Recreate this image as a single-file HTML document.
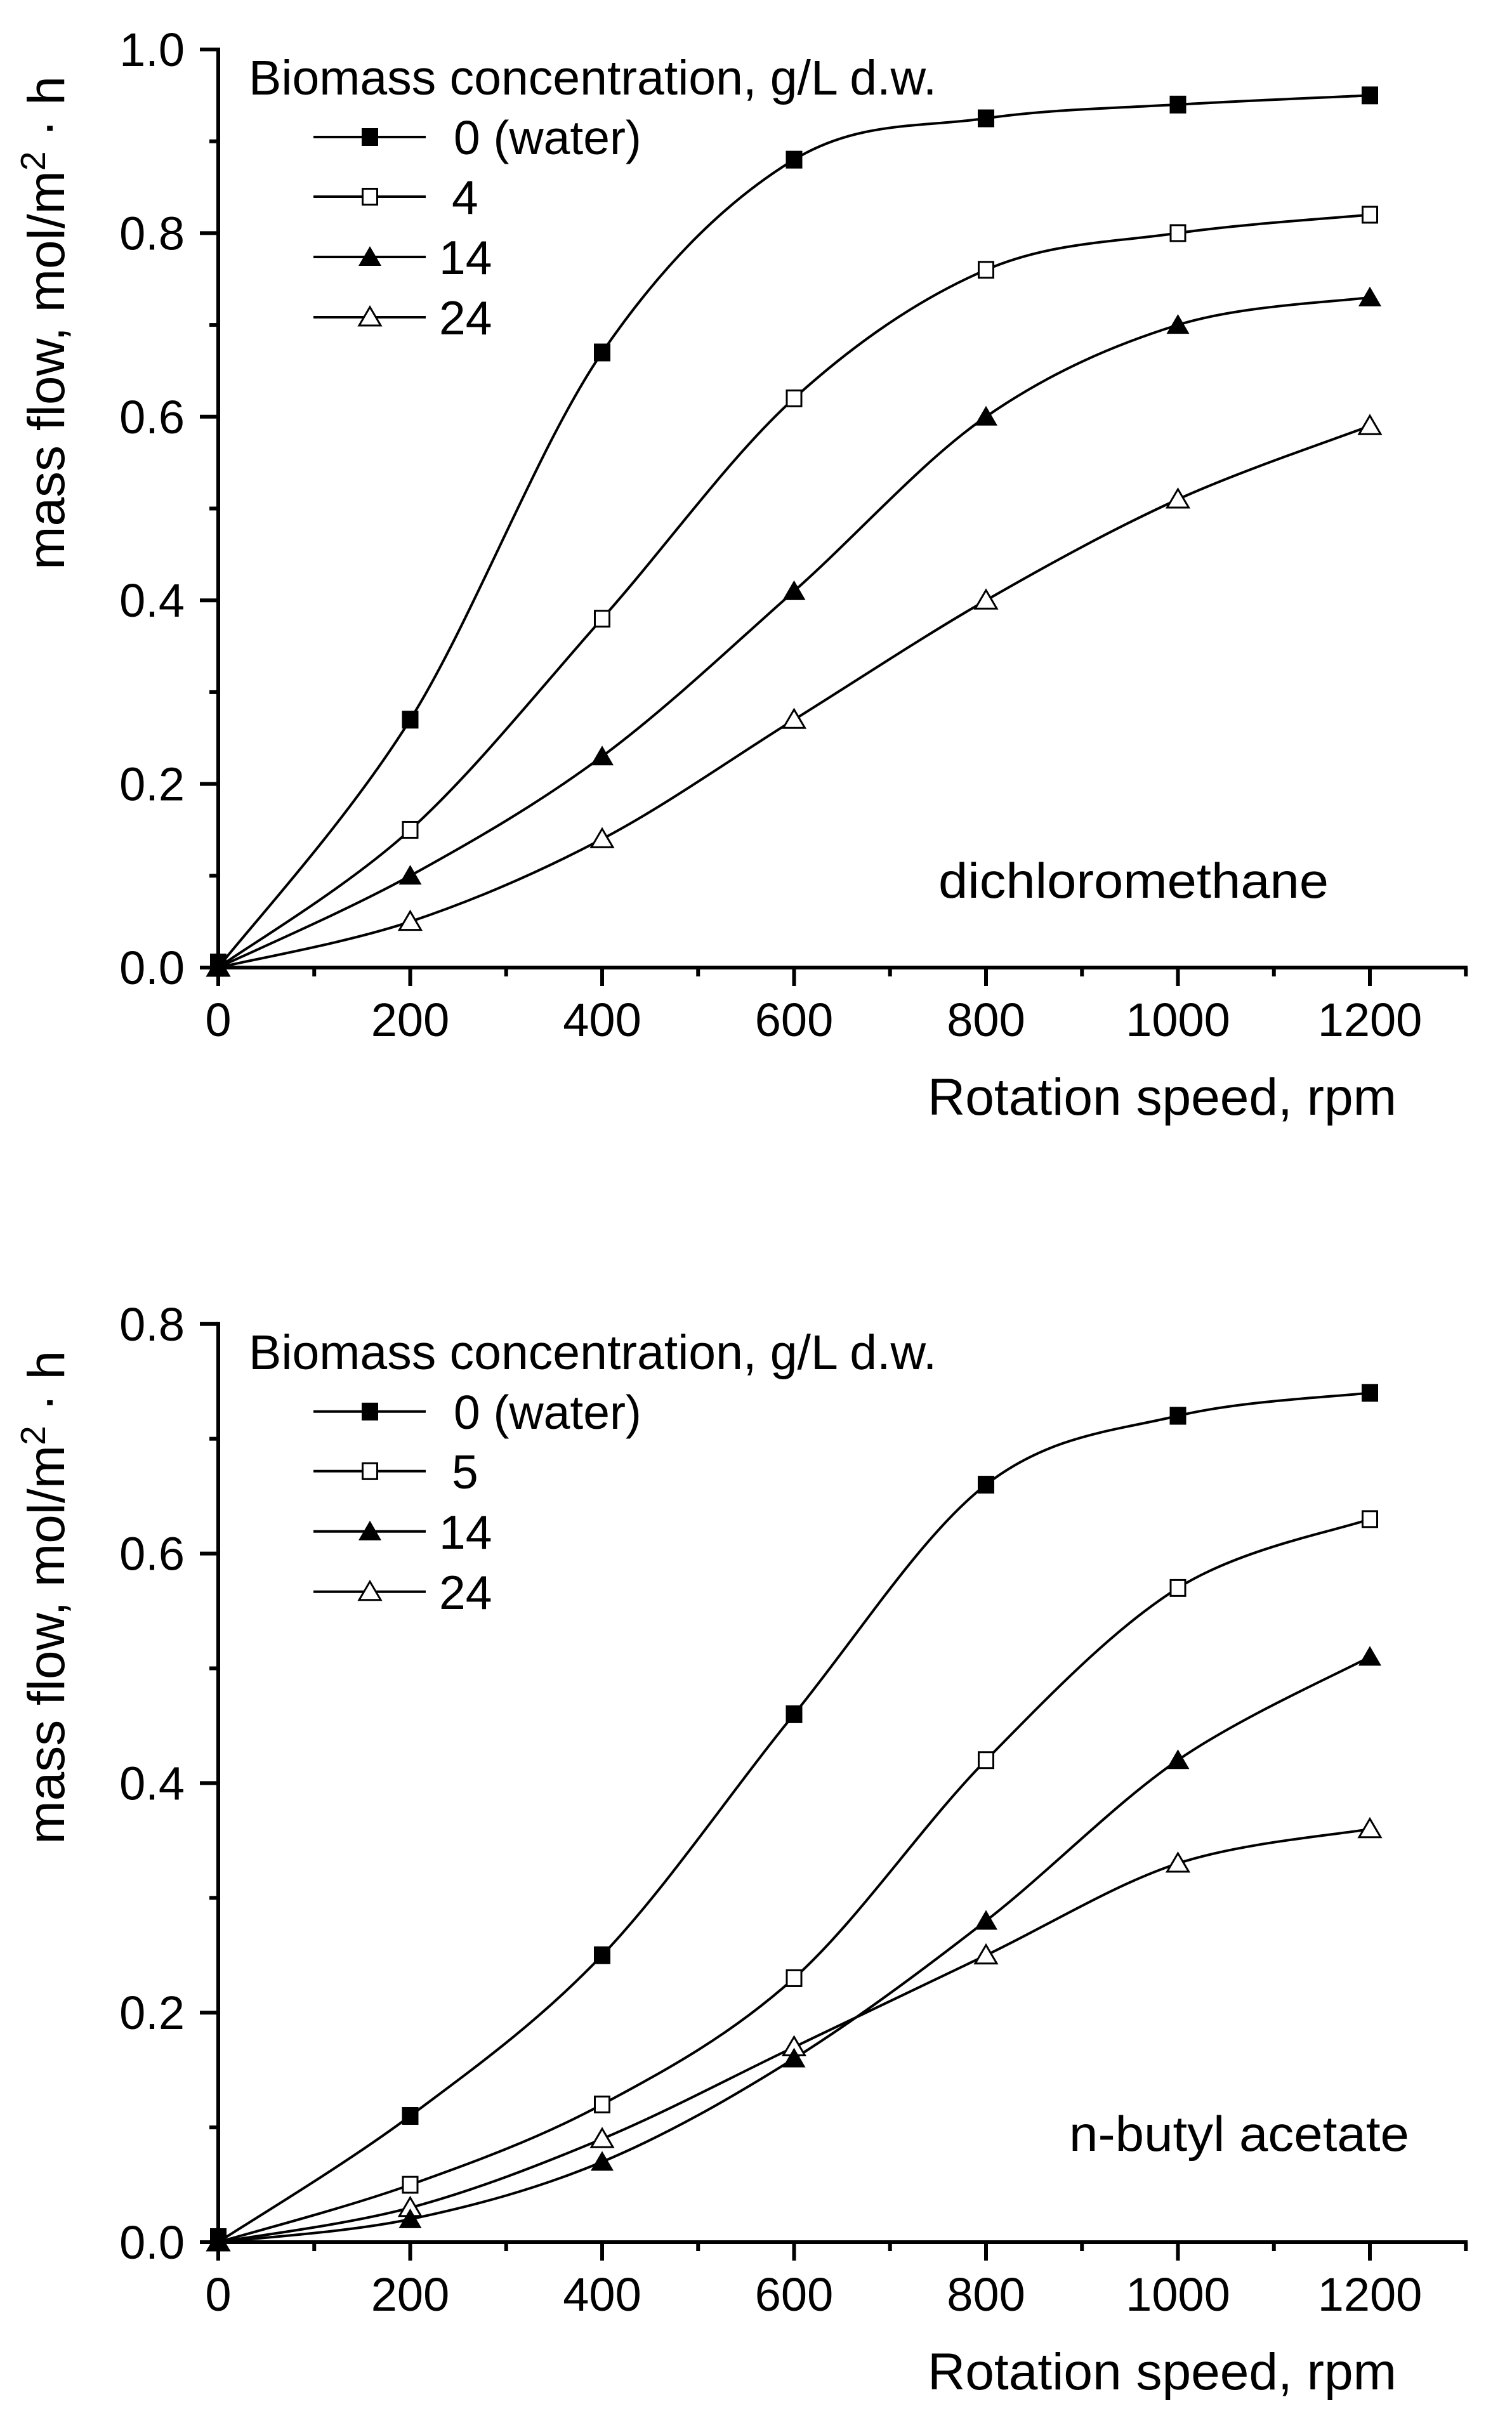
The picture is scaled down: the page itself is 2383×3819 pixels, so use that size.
<!DOCTYPE html>
<html><head><meta charset="utf-8">
<style>
html,body{margin:0;padding:0;background:#fff;}
svg{display:block;}
text{font-family:"Liberation Sans",Arial,sans-serif;fill:#000;}
</style></head>
<body>
<svg id="s" xmlns="http://www.w3.org/2000/svg" width="2383" height="3819" viewBox="0 0 2383 3819">
<rect width="2383" height="3819" fill="#fff"/>
<g id="g"></g>
</svg>
<script>
(function(){
var g=document.getElementById('g');
var out='';
function X(v){return 344+v*1.5125;}
var rpm=[0,200,400,600,800,1000,1200];
function spline(pts){
  var d='M'+pts[0][0].toFixed(1)+','+pts[0][1].toFixed(1);
  for(var i=0;i<pts.length-1;i++){
    var p0=pts[i>0?i-1:i],p1=pts[i],p2=pts[i+1],p3=pts[i+2<pts.length?i+2:i+1];
    var t=1/6;
    var c1x=p1[0]+(p2[0]-p0[0])*t,c1y=p1[1]+(p2[1]-p0[1])*t;
    var c2x=p2[0]-(p3[0]-p1[0])*t,c2y=p2[1]-(p3[1]-p1[1])*t;
    d+=' C'+c1x.toFixed(1)+','+c1y.toFixed(1)+' '+c2x.toFixed(1)+','+c2y.toFixed(1)+' '+p2[0].toFixed(1)+','+p2[1].toFixed(1);
  }
  return d;
}
function marker(type,x,y){
  if(type==0) return '<rect x="'+(x-13)+'" y="'+(y-14)+'" width="26" height="28" fill="#000"/>';
  if(type==1) return '<rect x="'+(x-11.5)+'" y="'+(y-12.5)+'" width="23" height="25" fill="#fff" stroke="#000" stroke-width="3"/>';
  if(type==2) return '<polygon points="'+(x-18)+','+(y+14)+' '+(x+18)+','+(y+14)+' '+x+','+(y-17)+'" fill="#000"/>';
  return '<polygon points="'+(x-17)+','+(y+13)+' '+(x+17)+','+(y+13)+' '+x+','+(y-16)+'" fill="#fff" stroke="#000" stroke-width="3"/>';
}
function panel(y0,ymax,perUnit,data,labels,name,nameX,nameY,nameLen){
  function Y(v){return y0-v*perUnit;}
  var top=Y(ymax);
  for(var s=0;s<4;s++){
    var pts=[];for(var i=0;i<7;i++)pts.push([X(rpm[i]),Y(data[s][i])]);
    out+='<path d="'+spline(pts)+'" fill="none" stroke="#000" stroke-width="4"/>';
  }
  for(var s=3;s>=0;s--){
    for(var i=0;i<7;i++){
      var yy=Y(data[s][i]); if(i==0) yy-= (s==0||s==1)?8:0;
      out+=marker(s,X(rpm[i]),yy);
    }
  }
  out+='<line x1="344" y1="'+(top-3)+'" x2="344" y2="'+(y0+3)+'" stroke="#000" stroke-width="6"/>';
  out+='<line x1="341" y1="'+y0+'" x2="2313" y2="'+y0+'" stroke="#000" stroke-width="6"/>';
  for(var v=0;v<=1300;v+=100){
    var maj=(v%200==0);
    out+='<line x1="'+X(v)+'" y1="'+y0+'" x2="'+X(v)+'" y2="'+(y0+(maj?29:14))+'" stroke="#000" stroke-width="6"/>';
    if(maj) out+='<text x="'+X(v)+'" y="'+(y0+108)+'" font-size="74" text-anchor="middle">'+v+'</text>';
  }
  var n=Math.round(ymax*10);
  for(var k=0;k<=n;k++){
    var v=k/10,maj=(k%2==0),yy=Y(v);
    out+='<line x1="344" y1="'+yy+'" x2="'+(maj?315:330)+'" y2="'+yy+'" stroke="#000" stroke-width="6"/>';
    if(maj) out+='<text x="291" y="'+(yy+26)+'" font-size="74" text-anchor="end">'+v.toFixed(1)+'</text>';
  }
  out+='<text x="392" y="'+(top+71)+'" font-size="77">Biomass concentration, g/L d.w.</text>';
  var rows=[138,232,327,422];
  var lx=[715,712,692,692];
  for(var r=0;r<4;r++){
    var ry=top+rows[r];
    out+='<line x1="494" y1="'+ry+'" x2="671" y2="'+ry+'" stroke="#000" stroke-width="4"/>';
    out+=marker(r,583,ry);
    out+='<text x="'+lx[r]+'" y="'+(ry+27)+'" font-size="75">'+labels[r]+'</text>';
  }
  out+='<text x="'+nameX+'" y="'+nameY+'" font-size="78" textLength="'+nameLen+'" lengthAdjust="spacingAndGlyphs">'+name+'</text>';
  out+='<text x="2201" y="'+(y0+232)+'" font-size="82" text-anchor="end" textLength="739" lengthAdjust="spacingAndGlyphs">Rotation speed, rpm</text>';
  out+='<text transform="translate(101,'+(top+42)+') rotate(-90)" font-size="82" text-anchor="end">mass flow, mol/m<tspan font-size="55" dy="-30">2</tspan><tspan dy="30"> · h</tspan></text>';
}
panel(1525,1.0,1447,
 [[0,.27,.67,.88,.925,.94,.95],[0,.15,.38,.62,.76,.80,.82],[0,.10,.23,.41,.60,.70,.73],[0,.05,.14,.27,.40,.51,.59]],
 ['0 (water)','4','14','24'],'dichloromethane',1479,1415,615);
panel(3534,0.8,1809,
 [[0,.11,.25,.46,.66,.72,.74],[0,.05,.12,.23,.42,.57,.63],[0,.02,.07,.16,.28,.42,.51],[0,.03,.09,.17,.25,.33,.36]],
 ['0 (water)','5','14','24'],'n-butyl acetate',1685,3390,536);
g.innerHTML=out;
})();
</script>
</body></html>
